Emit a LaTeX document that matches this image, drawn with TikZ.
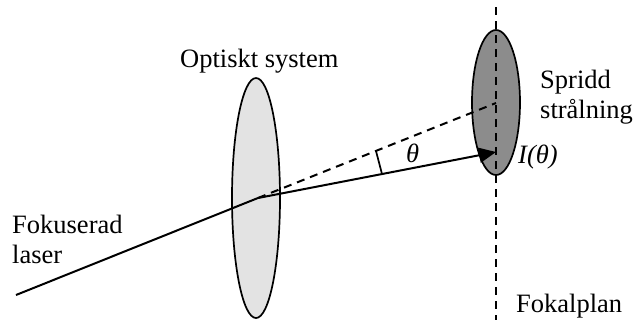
\documentclass[tikz,border=0pt]{standalone}
\usepackage{fontspec}
\setmainfont{Liberation Serif}
\usetikzlibrary{arrows.meta, shapes.geometric}

\begin{document}
\begin{tikzpicture}[x=1pt, y=-1pt, >={Stealth[length=17pt, width=15pt, inset=0pt]},
    every node/.style={font=\fontsize{26.5}{30}\selectfont, inner sep=0pt},
    lensbody/.style={draw, ellipse, line width=1.7pt},
    raypath/.style={line width=2pt},
    dashpath/.style={line width=2pt, dash pattern=on 8pt off 6pt}]
  \useasboundingbox (0,0) rectangle (635,322);
  % lenses
  \node[lensbody, fill=black!11, minimum width=48pt, minimum height=240pt] (systemLens) at (256,198) {};
  \node[lensbody, fill=black!45, minimum width=48pt, minimum height=145pt] (spreadLens) at (496,102.5) {};
  % end points
  \coordinate (laserStart) at (16,295);
  \coordinate (bendPoint) at (258,198);
  \coordinate (rayEnd) at (496,152);
  \coordinate (dashEnd) at (496,103);
  \coordinate (planeTop) at (496,7);
  \coordinate (planeBottom) at (496,320);
  \coordinate (markTop) at (376,151);
  \coordinate (markBottom) at (382,174);
  % rays
  \draw[dashpath] (planeTop) -- (planeBottom);
  \draw[dashpath] (bendPoint) -- (dashEnd);
  \draw[raypath] (laserStart) -- (bendPoint);
  \draw[raypath, ->] (bendPoint) -- (rayEnd);
  \draw[line width=1.7pt] (markTop) -- (markBottom);
  % labels
  \node[anchor=base west] (systemLabel) at (180,67) {Optiskt system};
  \node[anchor=base west] (spreadLabel) at (540,88) {Spridd};
  \node[anchor=base west] (spreadLabelTwo) at (540,118) {strålning};
  \node[anchor=base west] (laserLabel) at (12,233) {Fokuserad};
  \node[anchor=base west] (laserLabelTwo) at (12,263) {laser};
  \node[anchor=base west] (planeLabel) at (516,312) {Fokalplan};
  \node[anchor=base west] (angleLabel) at (406,162) {\itshape θ};
  \node[anchor=base west] (intensityLabel) at (518,163) {\itshape I(θ)};
\end{tikzpicture}
\end{document}
